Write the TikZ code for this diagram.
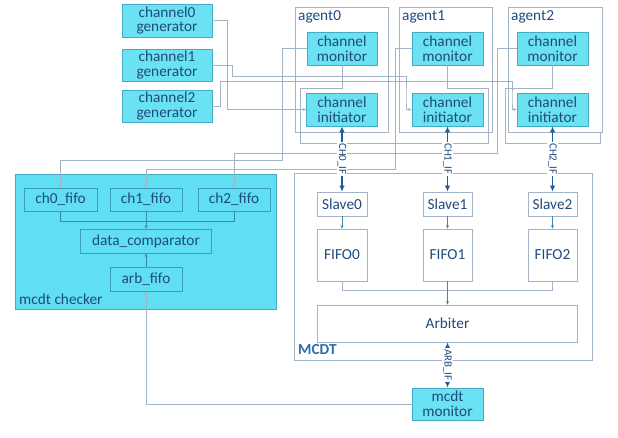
\documentclass[tikz,border=0pt]{standalone}
\usepackage{fontspec}
\setmainfont{Carlito}
\usetikzlibrary{arrows.meta}
\definecolor{cyanfill}{HTML}{6BE2F2}
\definecolor{checkfill}{HTML}{60DFF2}
\definecolor{cyanedge}{HTML}{45AACA}
\definecolor{inedge}{HTML}{3A9EC0}
\definecolor{txt}{HTML}{1F4A7E}
\definecolor{mcdtblue}{HTML}{2F6CAB}
\definecolor{wirec}{HTML}{A3B3C7}
\definecolor{inwire}{HTML}{3D88AE}
\definecolor{boxedge}{HTML}{A3B3C8}
\definecolor{ifblue}{HTML}{1F5E9E}
\begin{document}
\begin{tikzpicture}[x=1pt,y=-1pt,
  bigfont/.style={font=\fontsize{15.3}{14.6}\selectfont},
  cbox/.style={draw=cyanedge, fill=cyanfill, text=txt, bigfont, align=center, inner sep=0pt, line width=0.6pt},
  wbox/.style={draw=boxedge, fill=white, text=txt, bigfont, align=center, inner sep=0pt, line width=0.6pt},
  ibox/.style={draw=inedge, text=txt, bigfont, align=center, inner sep=0pt, line width=0.6pt},
  frame/.style={draw=boxedge, inner sep=0pt, line width=0.6pt},
  wire/.style={draw=wirec, line width=0.6pt},
  iwire/.style={draw=inwire, line width=0.6pt},
  tip/.style={-{Stealth[length=3.5pt,width=3pt]}},
  ifarrow/.style={draw=ifblue, line width=1.6pt, {Latex[length=6pt,width=5.5pt]}-{Latex[length=6pt,width=5.5pt]}},
  iflabel/.style={rotate=-90, fill=white, inner sep=0.8pt, text=txt, font=\fontsize{11}{11}\selectfont},
  framelabel/.style={anchor=base west, inner sep=0pt, text=txt, bigfont}
]
\useasboundingbox (0,0) rectangle (618,438);

% generators
\node[cbox, minimum width=90, minimum height=33] (gen0) at (167,20.5) {channel0\\generator};
\node[cbox, minimum width=90, minimum height=32] (gen1) at (167,65) {channel1\\generator};
\node[cbox, minimum width=90, minimum height=32] (gen2) at (167,106) {channel2\\generator};

% agents
\node[frame, minimum width=93, minimum height=125] (agent0) at (341.5,69.5) {};
\node[frame, minimum width=93, minimum height=125] (agent1) at (445.5,69.5) {};
\node[frame, minimum width=94, minimum height=125] (agent2) at (555,69.5) {};
\node[framelabel] (agent0l) at (298,21) {agent0};
\node[framelabel] (agent1l) at (402,21) {agent1};
\node[framelabel] (agent2l) at (511,21) {agent2};

\node[cbox, minimum width=70, minimum height=33] (mon0) at (342,48.5) {channel\\monitor};
\node[cbox, minimum width=71, minimum height=33] (mon1) at (447.5,48.5) {channel\\monitor};
\node[cbox, minimum width=71, minimum height=33] (mon2) at (552.5,48.5) {channel\\monitor};
\node[cbox, minimum width=71, minimum height=33] (init0) at (342,109.5) {channel\\initiator};
\node[cbox, minimum width=71, minimum height=33] (init1) at (447.5,109.5) {channel\\initiator};
\node[cbox, minimum width=71, minimum height=33] (init2) at (552.5,109.5) {channel\\initiator};

% MCDT
\node[frame, minimum width=298, minimum height=187] (mcdt) at (443,266.5) {};
\node[anchor=base west, inner sep=0pt, text=mcdtblue, font=\fontsize{15.3}{15}\selectfont\bfseries] (mcdtl) at (298,354) {MCDT};
\node[wbox, minimum width=50, minimum height=24] (slave0) at (342,204) {Slave0};
\node[wbox, minimum width=49, minimum height=24] (slave1) at (447.5,204) {Slave1};
\node[wbox, minimum width=49, minimum height=24] (slave2) at (552.5,204) {Slave2};
\node[wbox, minimum width=50, minimum height=52] (fifo0) at (342,255) {FIFO0};
\node[wbox, minimum width=49, minimum height=52] (fifo1) at (447.5,255) {FIFO1};
\node[wbox, minimum width=49, minimum height=52] (fifo2) at (552.5,255) {FIFO2};
\node[wbox, minimum width=260, minimum height=37] (arbiter) at (447.5,323.5) {Arbiter};
\node[cbox, minimum width=71, minimum height=32] (mmon) at (447.5,404) {mcdt\\monitor};

% checker
\node[draw=cyanedge, fill=checkfill, line width=0.6pt, minimum width=261, minimum height=135, inner sep=0pt] (checker) at (145.5,241.5) {};
\node[framelabel] (checkerl) at (19,304) {mcdt checker};
\node[ibox, minimum width=73, minimum height=23] (ch0) at (60.5,199.5) {ch0\_fifo};
\node[ibox, minimum width=72, minimum height=23] (ch1) at (146,199.5) {ch1\_fifo};
\node[ibox, minimum width=72, minimum height=23] (ch2) at (234,199.5) {ch2\_fifo};
\node[ibox, minimum width=131, minimum height=24] (comp) at (146,241) {data\_comparator};
\node[ibox, minimum width=72, minimum height=24] (arbf) at (146,279) {arb\_fifo};

% generator -> initiator
\draw[wire, tip] (gen0.east) -- ++(15,0) |- (init0.west);
\draw[wire, tip] (gen1.east) -| (232,76) -| (406,100) |- (init1.west);
\draw[wire, tip] (gen2.east) -| (220,81) -| (512,100) |- (init2.west);

% monitors -> checker fifos
\draw[wire, tip] (mon0.west) -| (282,160) -| (ch0.north);
\draw[wire, tip] (mon1.west) -| (395,169) -| (ch1.north);
\draw[wire, tip] (mon2.west) -| (497,153) -| (ch2.north);

% monitor loops around initiators
\draw[wire] (mon0.south) -- (342,88) -| (300,143) -- (395,143);
\draw[wire] (mon1.south) -- (447.5,88) -| (488,143) -- (395,143);
\draw[wire] (mon2.south) -- (552.5,88) -| (505,143) -| (600,132);

% interfaces
\draw[ifarrow] (init0.south) -- node[iflabel] {CH0\_IF} (slave0.north);
\draw[ifarrow] (init1.south) -- node[iflabel] {CH1\_IF} (slave1.north);
\draw[ifarrow] (init2.south) -- node[iflabel] {CH2\_IF} (slave2.north);
\draw[ifarrow] (arbiter.south) -- node[iflabel] {ARB\_IF} (mmon.north);

% inside MCDT
\draw[wire, tip, draw=inwire] (slave0.south) -- (fifo0.north);
\draw[wire, tip, draw=inwire] (slave1.south) -- (fifo1.north);
\draw[wire, tip, draw=inwire] (slave2.south) -- (fifo2.north);
\draw[wire] (fifo0.south) -- ++(0,9) -| (fifo2.south);
\draw[wire, tip, draw=inwire] (fifo1.south) -- (arbiter.north);

% inside checker
\draw[iwire] (ch0.south) -- ++(0,10) -| (ch2.south);
\draw[iwire, tip] (ch1.south) -- (comp.north);
\draw[iwire, tip] (arbf.north) -- (comp.south);
\draw[wire, tip] (mmon.west) -| (arbf.south);
\end{tikzpicture}
\end{document}
